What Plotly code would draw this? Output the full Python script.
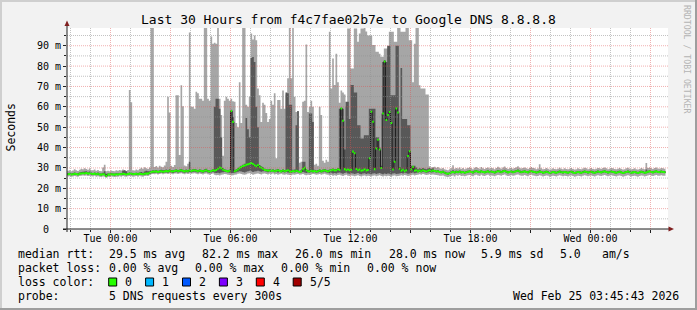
import pandas as pd
import plotly.graph_objects as go

# ---------------- data (ms), one value per 5-minute step from Mon 21:50 ----------------
MEDIAN = [
    26.9, 27.0, 26.8, 26.9, 27.1, 27.0, 26.8, 27.2, 27.3, 27.4,
    27.3, 27.5, 27.2, 27.4, 27.1, 27.0, 27.2, 26.9, 27.1, 26.8,
    26.7, 26.9, 26.8, 26.0, 26.8, 26.7, 26.9, 26.8, 26.7, 26.9,
    26.8, 27.0, 26.9, 27.1, 27.0, 26.8, 27.0, 27.2, 27.1, 26.9,
    27.0, 27.1, 26.9, 27.2, 27.0, 26.9, 27.1, 27.3, 27.2, 27.6,
    28.0, 28.2, 28.1, 28.3, 28.0, 28.2, 28.4, 28.1, 28.3, 28.5,
    28.3, 28.6, 28.4, 28.2, 28.5, 28.7, 28.4, 28.6, 28.9, 28.5,
    28.3, 28.6, 28.4, 28.8, 28.5, 28.7, 28.9, 28.6, 28.4, 28.7,
    28.5, 28.3, 28.6, 28.9, 28.4, 28.2, 28.5, 28.8, 28.6, 29.0,
    29.6, 30.2, 29.8, 29.1, 28.7, 28.5, 28.3, 28.6, 57.9, 52.6,
    28.4, 28.7, 29.2, 29.9, 30.4, 30.9, 31.2, 31.6, 31.8, 32.0,
    32.4, 31.9, 31.3, 30.8, 31.4, 30.6, 30.1, 29.6, 29.0, 28.8,
    28.6, 28.9, 28.5, 28.7, 28.4, 28.6, 28.9, 28.5, 28.3, 28.7,
    28.4, 28.6, 28.8, 28.3, 28.1, 28.5, 28.2, 28.6, 28.4, 28.0,
    28.3, 29.4, 30.1, 28.8, 28.4, 28.2, 28.6, 28.3, 28.5, 28.1,
    28.4, 28.7, 28.3, 28.6, 28.9, 28.5, 28.2, 28.6, 28.8, 29.1,
    28.7, 28.9, 29.3, 29.0, 59.2, 53.2, 29.4, 28.8, 29.2, 28.9,
    29.1, 38.0, 37.2, 29.5, 28.8, 29.2, 28.6, 28.9, 29.3, 28.7,
    29.0, 34.7, 57.6, 52.7, 29.4, 39.5, 43.8, 39.0, 30.0, 56.7,
    82.2, 53.5, 56.0, 57.5, 52.0, 29.2, 33.0, 59.2, 57.2, 29.6,
    28.6, 29.1, 28.4, 28.8, 35.8, 38.2, 29.3, 30.5, 28.6, 28.9,
    28.3, 28.7, 28.4, 28.9, 28.5, 28.2, 28.6, 28.8, 28.4, 28.7,
    28.5, 28.2, 28.4, 28.0, 27.8, 28.1, 27.6, 27.3, 27.1, 27.4,
    27.8, 28.0, 27.7, 28.1, 27.9, 28.2, 27.8, 28.0, 27.6, 27.9,
    28.1, 28.3, 28.0, 27.7, 28.2, 28.4, 28.1, 27.9, 28.3, 28.0,
    27.8, 28.1, 28.3, 27.9, 28.2, 28.0, 27.7, 28.1, 28.4, 28.2,
    27.9, 28.3, 28.5, 28.1, 27.8, 28.0, 28.2, 27.9, 28.1, 28.4,
    28.6, 28.2, 27.9, 28.1, 28.3, 28.0, 27.8, 28.2, 28.4, 28.1,
    28.0, 27.7, 27.9, 28.2, 28.0, 27.6, 27.8, 28.1, 27.9, 27.5,
    27.7, 28.0, 27.8, 27.6, 27.9, 28.2, 27.9, 27.7, 28.0, 27.8,
    27.6, 27.9, 28.1, 27.8, 27.5, 27.7, 28.0, 27.8, 27.6, 27.9,
    28.2, 28.0, 27.7, 27.9, 28.1, 27.8, 27.6, 27.9, 28.2, 28.0,
    27.8, 28.1, 28.3, 28.0, 27.7, 27.9, 28.2, 28.0, 27.8, 27.6,
    27.9, 28.1, 27.8, 27.5, 27.7, 28.0, 28.2, 27.9, 27.6, 27.8,
    28.0, 27.7, 27.5, 27.8, 28.1, 27.9, 27.6, 27.8, 28.1, 28.3,
    28.0, 27.8, 28.1, 28.3, 28.0, 27.9, 28.2, 28.0, 27.9,
]

PING_MAX = [
    28.6, 28.9, 28.4, 28.7, 29.3, 28.8, 28.5, 29.1, 29.6, 29.4,
    29.8, 29.5, 29.1, 29.7, 28.9, 28.8, 29.2, 28.6, 29.0, 28.5,
    28.4, 30.2, 31.6, 28.3, 28.6, 28.3, 28.7, 28.5, 28.4, 28.8,
    28.6, 29.0, 28.7, 29.2, 28.8, 28.5, 29.0, 68.2, 62.2, 28.9,
    28.7, 29.2, 28.8, 29.5, 30.1, 29.6, 30.3, 29.8, 29.5, 30.2,
    100, 100, 30.4, 30.9, 30.2, 31.0, 30.6, 30.3, 31.2, 33.0,
    64.9, 57.2, 31.0, 30.5, 31.4, 65.7, 65.7, 36.3, 70.6, 60.3,
    31.2, 30.8, 32.0, 96.5, 60.0, 60.0, 59.0, 67.4, 66.6, 64.0,
    64.0, 63.0, 100, 100, 64.0, 63.0, 94.5, 91.0, 91.5, 91.0,
    99.0, 64.0, 56.0, 36.0, 63.0, 65.0, 64.0, 63.0, 64.0, 62.7,
    62.5, 52.0, 50.0, 72.0, 52.0, 99.5, 100, 61.0, 60.0, 65.0,
    96.0, 93.0, 95.0, 92.7, 69.0, 65.7, 52.6, 62.0, 61.0, 57.0,
    52.6, 54.0, 63.0, 61.0, 66.6, 34.7, 63.3, 63.3, 59.0, 68.0,
    59.0, 66.0, 74.0, 99.5, 74.0, 100, 65.0, 57.5, 57.5, 32.5,
    33.0, 62.5, 63.0, 90.6, 57.5, 60.0, 63.0, 60.0, 31.5, 32.0,
    31.0, 60.0, 56.0, 33.5, 32.5, 34.0, 33.0, 96.8, 69.0, 83.7,
    70.7, 86.0, 72.0, 62.0, 68.0, 67.0, 66.0, 60.0, 98.5, 98.5,
    78.8, 78.8, 98.5, 98.5, 92.0, 96.0, 98.5, 98.5, 99.5, 97.0,
    95.0, 95.0, 95.0, 90.3, 90.3, 87.0, 87.0, 86.0, 84.6, 84.6,
    88.6, 88.6, 88.6, 96.8, 96.8, 96.8, 92.0, 92.0, 100, 100,
    96.8, 96.8, 96.8, 100, 100, 92.7, 92.7, 72.0, 91.0, 99.5,
    99.0, 70.6, 69.0, 69.0, 69.0, 66.0, 66.0, 30.8, 30.2, 30.5,
    30.6, 30.1, 30.4, 29.8, 29.6, 30.0, 29.4, 29.1, 28.9, 29.3,
    29.8, 31.3, 29.6, 30.0, 29.7, 30.2, 29.5, 29.9, 29.3, 29.7,
    30.0, 30.3, 29.8, 29.4, 30.1, 30.5, 29.9, 29.6, 30.4, 29.8,
    29.5, 29.9, 30.2, 29.7, 30.1, 29.8, 29.4, 29.9, 30.6, 30.1,
    29.6, 30.2, 30.7, 29.9, 29.5, 29.8, 30.1, 29.6, 29.9, 30.3,
    30.8, 30.1, 29.7, 29.9, 30.2, 29.8, 29.5, 30.0, 30.4, 29.9,
    29.8, 29.4, 29.7, 31.8, 29.8, 29.3, 29.5, 29.9, 29.6, 29.2,
    29.4, 29.8, 29.5, 29.3, 29.6, 30.1, 29.6, 29.4, 29.8, 29.5,
    29.3, 29.6, 29.9, 29.5, 29.2, 29.4, 29.8, 29.5, 29.3, 29.7,
    30.1, 29.8, 29.4, 29.6, 29.9, 29.5, 29.3, 29.6, 30.0, 29.8,
    29.5, 29.9, 30.2, 29.8, 29.4, 29.6, 30.0, 29.8, 29.5, 29.3,
    29.6, 29.9, 29.5, 29.2, 29.4, 29.8, 30.1, 29.6, 29.3, 29.5,
    29.8, 29.4, 29.2, 29.5, 29.9, 29.6, 29.3, 32.4, 29.9, 30.2,
    29.8, 29.5, 29.9, 30.2, 29.7, 29.6, 30.0, 29.8, 29.6,
]

PING_MIN = [
    25.8, 25.9, 25.6, 25.8, 26.0, 25.8, 25.7, 26.0, 26.1, 26.3,
    26.2, 26.3, 26.0, 26.2, 25.9, 25.8, 26.1, 25.7, 25.9, 25.6,
    25.5, 25.8, 25.6, 25.2, 25.7, 25.5, 25.8, 25.6, 25.5, 25.7,
    25.6, 25.9, 25.7, 26.0, 25.8, 25.6, 25.9, 26.0, 25.9, 25.7,
    25.8, 26.0, 25.7, 26.1, 25.8, 25.7, 26.0, 26.2, 26.0, 26.4,
    26.9, 27.0, 26.9, 27.1, 26.8, 27.0, 27.2, 26.9, 27.1, 27.2,
    27.0, 27.3, 27.1, 26.9, 27.2, 27.3, 27.0, 27.2, 27.4, 27.1,
    26.9, 27.2, 27.0, 27.3, 27.1, 27.2, 27.4, 27.1, 26.9, 27.2,
    27.0, 26.8, 27.1, 27.3, 26.9, 26.7, 27.0, 27.2, 26.6, 26.4,
    26.5, 26.3, 26.6, 26.8, 27.0, 26.9, 26.7, 26.5, 26.3, 26.4,
    26.6, 26.8, 27.1, 27.3, 27.0, 26.8, 26.6, 26.9, 27.2, 27.4,
    27.0, 26.7, 26.9, 27.1, 27.3, 27.0, 26.8, 27.1, 27.3, 27.0,
    26.8, 27.1, 26.9, 27.2, 26.8, 27.0, 26.6, 26.9, 27.1, 26.8,
    26.6, 26.9, 26.7, 26.5, 26.4, 26.8, 26.6, 26.9, 27.0, 26.7,
    26.8, 27.0, 26.6, 26.4, 26.7, 26.5, 26.8, 27.0, 26.9, 26.6,
    26.8, 27.0, 26.7, 26.9, 27.1, 26.8, 26.6, 26.3, 26.5, 26.2,
    26.4, 26.1, 26.5, 26.7, 26.3, 26.0, 26.4, 26.6, 26.2, 26.0,
    26.3, 26.1, 25.9, 26.2, 26.4, 26.0, 25.8, 26.1, 26.3, 25.9,
    26.2, 26.0, 25.8, 26.1, 26.3, 25.9, 26.1, 26.4, 26.0, 25.8,
    26.1, 25.9, 26.2, 26.0, 25.7, 26.1, 26.3, 25.9, 26.0, 26.2,
    26.4, 26.1, 26.5, 26.3, 26.0, 26.2, 26.4, 26.6, 26.3, 26.5,
    26.7, 26.9, 26.6, 27.0, 26.8, 26.5, 26.7, 26.9, 26.6, 26.8,
    26.6, 26.5, 26.4, 26.2, 26.1, 26.3, 25.9, 25.7, 25.5, 25.8,
    26.0, 26.3, 25.8, 26.4, 26.1, 26.5, 26.0, 26.2, 25.9, 26.1,
    26.4, 26.5, 26.1, 25.9, 26.4, 26.7, 26.3, 26.0, 26.6, 26.2,
    26.0, 26.4, 26.6, 26.1, 26.3, 26.2, 25.9, 26.3, 26.5, 26.4,
    26.1, 26.5, 26.8, 26.3, 26.0, 26.2, 26.4, 26.1, 26.3, 26.6,
    26.8, 26.4, 26.1, 26.2, 26.5, 26.2, 25.9, 26.4, 26.6, 26.3,
    26.2, 25.9, 26.0, 26.4, 26.2, 25.8, 26.0, 26.3, 26.1, 25.7,
    25.9, 26.2, 26.0, 25.8, 26.1, 26.4, 26.1, 25.9, 26.2, 26.0,
    25.8, 26.1, 26.3, 26.0, 25.7, 25.9, 26.2, 26.0, 25.8, 26.1,
    26.4, 26.2, 25.9, 26.1, 26.3, 26.0, 25.8, 26.1, 26.4, 26.2,
    26.0, 26.3, 26.5, 26.2, 25.9, 26.1, 26.4, 26.2, 26.0, 25.8,
    26.1, 26.3, 26.0, 25.7, 25.9, 26.2, 26.4, 26.1, 25.8, 26.0,
    26.2, 25.9, 25.7, 26.0, 26.3, 26.1, 25.8, 26.0, 26.3, 26.5,
    26.2, 26.0, 26.3, 26.5, 26.2, 26.1, 26.4, 26.2, 26.1,
]

PING_LOW = [
    26.5, 26.6, 26.4, 26.5, 26.7, 26.6, 26.4, 26.8, 26.9, 27.0,
    26.9, 27.1, 26.8, 27.0, 26.7, 26.6, 26.8, 26.5, 26.7, 26.4,
    26.3, 26.5, 26.4, 25.8, 26.4, 26.3, 26.5, 26.4, 26.3, 26.5,
    26.4, 26.6, 26.5, 26.7, 26.6, 26.4, 26.6, 26.8, 26.7, 26.5,
    26.6, 26.7, 26.5, 26.8, 26.6, 26.5, 26.7, 26.9, 26.8, 27.1,
    27.4, 27.6, 27.5, 27.7, 27.4, 27.6, 27.8, 27.5, 27.7, 27.8,
    27.6, 27.9, 27.7, 27.5, 27.8, 28.0, 27.7, 27.9, 28.1, 27.8,
    27.6, 27.9, 27.7, 28.0, 27.8, 28.0, 28.1, 27.9, 27.7, 28.0,
    27.8, 27.6, 27.9, 28.1, 27.7, 27.5, 27.8, 28.0, 27.6, 27.5,
    27.6, 27.4, 27.7, 27.9, 28.0, 27.9, 27.7, 27.6, 27.4, 27.5,
    27.6, 27.9, 28.1, 28.4, 28.2, 28.0, 27.8, 28.1, 28.4, 28.6,
    28.3, 28.0, 28.2, 28.4, 28.6, 28.3, 28.1, 28.3, 28.4, 28.1,
    27.9, 28.2, 28.0, 28.3, 27.9, 28.1, 27.8, 28.0, 27.7, 28.0,
    27.7, 28.0, 27.8, 27.6, 27.5, 27.9, 27.7, 28.0, 27.9, 27.6,
    27.8, 28.0, 27.7, 27.5, 27.8, 27.6, 27.9, 27.8, 27.9, 27.6,
    27.8, 28.0, 27.7, 27.9, 28.1, 27.8, 27.6, 27.4, 27.6, 27.3,
    27.5, 27.2, 27.6, 27.8, 27.4, 27.1, 27.5, 27.7, 27.3, 27.1,
    27.4, 27.2, 27.0, 27.3, 27.5, 27.1, 26.9, 27.2, 27.4, 27.0,
    27.3, 27.1, 26.9, 27.2, 27.4, 27.0, 27.2, 27.5, 27.1, 26.9,
    27.2, 27.0, 27.3, 27.1, 26.8, 27.2, 27.4, 27.0, 27.1, 27.3,
    27.5, 27.2, 27.6, 27.4, 27.1, 27.3, 27.5, 27.7, 27.4, 27.6,
    27.8, 28.0, 27.7, 28.1, 27.9, 27.6, 27.8, 28.0, 27.7, 27.9,
    28.0, 27.8, 27.9, 27.6, 27.4, 27.7, 27.2, 26.9, 26.7, 27.0,
    27.4, 27.6, 27.3, 27.7, 27.5, 27.8, 27.4, 27.6, 27.2, 27.5,
    27.7, 27.9, 27.6, 27.3, 27.8, 28.0, 27.7, 27.5, 27.9, 27.6,
    27.4, 27.7, 27.9, 27.5, 27.8, 27.6, 27.3, 27.7, 28.0, 27.8,
    27.5, 27.9, 28.1, 27.7, 27.4, 27.6, 27.8, 27.5, 27.7, 28.0,
    28.2, 27.8, 27.5, 27.7, 27.9, 27.6, 27.4, 27.8, 28.0, 27.7,
    27.6, 27.3, 27.5, 27.8, 27.6, 27.2, 27.4, 27.7, 27.5, 27.1,
    27.3, 27.6, 27.4, 27.2, 27.5, 27.8, 27.5, 27.3, 27.6, 27.4,
    27.2, 27.5, 27.7, 27.4, 27.1, 27.3, 27.6, 27.4, 27.2, 27.5,
    27.8, 27.6, 27.3, 27.5, 27.7, 27.4, 27.2, 27.5, 27.8, 27.6,
    27.4, 27.7, 27.9, 27.6, 27.3, 27.5, 27.8, 27.6, 27.4, 27.2,
    27.5, 27.7, 27.4, 27.1, 27.3, 27.6, 27.8, 27.5, 27.2, 27.4,
    27.6, 27.3, 27.1, 27.4, 27.7, 27.5, 27.2, 27.4, 27.7, 27.9,
    27.6, 27.4, 27.7, 27.9, 27.6, 27.5, 27.8, 27.6, 27.5,
]

PING_HIGH = [
    27.4, 27.6, 27.3, 27.5, 27.7, 27.5, 27.3, 27.8, 28.0, 28.1,
    28.2, 28.3, 27.9, 28.2, 27.8, 27.5, 27.8, 27.4, 27.7, 27.3,
    27.2, 27.6, 28.4, 27.1, 27.3, 27.2, 27.4, 27.3, 27.2, 27.4,
    27.3, 27.5, 27.4, 28.6, 28.8, 28.4, 27.5, 27.8, 27.6, 27.4,
    27.5, 27.6, 27.4, 27.8, 28.0, 27.6, 28.2, 28.6, 28.4, 28.3,
    28.6, 28.8, 28.7, 29.0, 28.6, 28.8, 29.1, 28.8, 29.0, 29.2,
    29.0, 29.3, 29.0, 28.8, 29.1, 29.4, 29.0, 29.2, 29.5, 29.1,
    28.9, 29.2, 29.0, 33.0, 29.1, 29.3, 29.5, 29.2, 29.0, 29.3,
    29.1, 28.9, 29.3, 29.6, 29.0, 28.8, 29.1, 29.4, 60.0, 64.0,
    64.0, 59.0, 45.0, 29.8, 29.3, 29.1, 28.9, 29.2, 58.5, 55.0,
    29.0, 29.3, 29.8, 30.6, 31.1, 31.6, 32.0, 54.5, 49.0, 45.0,
    84.0, 84.5, 82.0, 60.0, 50.0, 31.4, 30.8, 30.3, 29.6, 29.4,
    29.2, 29.5, 29.1, 29.3, 29.0, 29.2, 29.5, 29.1, 28.9, 29.3,
    29.0, 67.0, 66.6, 61.0, 61.0, 29.1, 29.2, 51.0, 58.0, 28.6,
    28.9, 33.0, 33.0, 29.4, 29.0, 56.7, 56.7, 52.5, 29.1, 28.7,
    29.0, 29.3, 28.9, 29.2, 29.5, 29.1, 28.8, 29.2, 29.4, 29.7,
    29.3, 29.5, 29.9, 59.0, 59.6, 59.0, 39.0, 62.5, 62.5, 54.0,
    70.7, 70.7, 67.0, 67.0, 51.0, 51.0, 44.5, 44.5, 46.0, 46.0,
    46.0, 59.0, 59.0, 59.0, 59.0, 45.0, 45.0, 40.0, 31.0, 82.0,
    83.0, 82.0, 90.0, 90.0, 65.7, 65.7, 65.7, 90.0, 90.0, 30.4,
    79.0, 54.0, 54.0, 54.0, 51.0, 51.0, 31.0, 31.0, 31.0, 30.2,
    29.4, 29.8, 29.5, 30.0, 29.6, 29.3, 29.7, 29.9, 29.5, 29.8,
    29.0, 28.7, 28.9, 28.5, 28.3, 28.6, 28.1, 27.8, 27.6, 27.9,
    28.3, 28.9, 28.2, 28.6, 28.4, 28.7, 28.3, 28.5, 28.1, 28.4,
    28.6, 28.8, 28.5, 28.2, 28.7, 28.9, 28.6, 28.4, 28.8, 28.5,
    28.3, 28.6, 28.8, 28.4, 28.7, 28.5, 28.2, 28.6, 29.0, 28.7,
    28.4, 28.8, 29.1, 28.6, 28.3, 28.5, 28.7, 28.4, 28.6, 28.9,
    29.2, 28.7, 28.4, 28.6, 28.8, 28.5, 28.3, 28.7, 28.9, 28.6,
    28.5, 28.2, 28.4, 29.0, 28.5, 28.1, 28.3, 28.6, 28.4, 28.0,
    28.2, 28.5, 28.3, 28.1, 28.4, 28.7, 28.4, 28.2, 28.5, 28.3,
    28.1, 28.4, 28.6, 28.3, 28.0, 28.2, 28.5, 28.3, 28.1, 28.4,
    28.7, 28.5, 28.2, 28.4, 28.6, 28.3, 28.1, 28.4, 28.7, 28.5,
    28.3, 28.6, 28.8, 28.5, 28.2, 28.4, 28.7, 28.5, 28.3, 28.1,
    28.4, 28.6, 28.3, 28.0, 28.2, 28.5, 28.7, 28.4, 28.1, 28.3,
    28.5, 28.2, 28.0, 28.3, 28.6, 28.4, 28.1, 29.2, 28.6, 28.8,
    28.5, 28.3, 28.6, 28.8, 28.5, 28.4, 28.7, 28.5, 28.4,
]

Y_TICKS = [0, 10, 20, 30, 40, 50, 60, 70, 80, 90]
Y_LABELS = ["0\u00a0\u00a0", "10 m", "20 m", "30 m", "40 m", "50 m", "60 m", "70 m", "80 m", "90 m"]
X_TICKS = ["2026-02-24 00:00", "2026-02-24 03:00", "2026-02-24 06:00", "2026-02-24 09:00",
           "2026-02-24 12:00", "2026-02-24 15:00", "2026-02-24 18:00", "2026-02-24 21:00",
           "2026-02-25 00:00", "2026-02-25 03:00"]
X_LABELS = ["Tue 00:00", "", "Tue 06:00", "", "Tue 12:00", "", "Tue 18:00", "", "Wed 00:00", ""]
LOSS_NAMES = ["0", "1", "2", "3", "4", "5/5"]
LOSS_COLORS = ["#26ff00", "#00b8ff", "#0059ff", "#7e00ff", "#ff0000", "#a10000"]

START = pd.Timestamp("2026-02-23 21:50")
X_RANGE = [pd.Timestamp("2026-02-23 21:49:30"), pd.Timestamp("2026-02-25 03:52:30")]
Y_MAX = 98.7

# ---------------- layout geometry (pixels) ----------------
W, H = 697, 310
PL, PR, PT, PB = 67, 668, 28, 229
FONT = "DejaVu Sans Mono"
BAND = 0.5  # half thickness of the median band (ms)


def px(x):
    return (x - PL) / (PR - PL)


def py(y):
    return (PB - y) / (PB - PT)


n = len(MEDIAN)
times = pd.date_range(START, periods=n + 1, freq="5min")


def step(vals):
    return list(vals) + [vals[-1]]


fig = go.Figure()


def add_band(lo, hi, color):
    fig.add_trace(go.Scatter(x=times, y=step(lo), mode="lines", line=dict(width=0, shape="hv"),
                             hoverinfo="skip", showlegend=False))
    fig.add_trace(go.Scatter(x=times, y=step(hi), mode="lines", line=dict(width=0, shape="hv"),
                             fill="tonexty", fillcolor=color, hoverinfo="skip", showlegend=False))


add_band(PING_MIN, PING_MAX, "#a6a6a6")
add_band(PING_LOW, PING_HIGH, "#585858")
fig.add_trace(go.Scatter(x=times, y=step(MEDIAN), mode="lines",
                         line=dict(width=1, shape="hv", color="#202020"),
                         hoverinfo="skip", showlegend=False))
add_band([m - BAND for m in MEDIAN], [m + BAND for m in MEDIAN], LOSS_COLORS[0])

shapes = []
# grid (drawn above the smoke, like rrdtool)
grid_col = "rgba(143,143,143,0.55)"
mgrid_col = "rgba(222,79,79,0.45)"
for t in pd.date_range("2026-02-23 22:00", "2026-02-25 03:00", freq="1h"):
    col = mgrid_col if t.hour % 3 == 0 else grid_col
    shapes.append(dict(type="line", xref="x", yref="paper", x0=t, x1=t, y0=0, y1=1, layer="above",
                       line=dict(color=col, width=1, dash="1px,1px")))
for v in range(5, 100, 5):
    col = mgrid_col if v % 10 == 0 else grid_col
    shapes.append(dict(type="line", xref="paper", yref="y", x0=0, x1=1, y0=v, y1=v, layer="above",
                       line=dict(color=col, width=1, dash="1px,1px")))
# axes + arrows
axis_col = "#1f1f1f"
arrow_col = "#7f1f1f"
shapes.append(dict(type="line", xref="paper", yref="paper", x0=px(63), x1=px(669), y0=py(229), y1=py(229),
                   layer="above", line=dict(color=axis_col, width=1)))
shapes.append(dict(type="line", xref="paper", yref="paper", x0=px(67), x1=px(67), y0=py(232), y1=py(25),
                   layer="above", line=dict(color=axis_col, width=1)))
shapes.append(dict(type="path", xref="paper", yref="paper", layer="above", fillcolor=arrow_col,
                   line=dict(width=0),
                   path=f"M {px(67)} {py(20.5)} L {px(64.5)} {py(26)} L {px(69.5)} {py(26)} Z"))
shapes.append(dict(type="path", xref="paper", yref="paper", layer="above", fillcolor=arrow_col,
                   line=dict(width=0),
                   path=f"M {px(674)} {py(229)} L {px(668.5)} {py(226.5)} L {px(668.5)} {py(231.5)} Z"))
# 3D frame of the image
shapes.append(dict(type="rect", xref="paper", yref="paper", x0=px(0), x1=px(W), y0=py(0), y1=py(2),
                   line=dict(width=0), fillcolor="#cfcfcf", layer="above"))
shapes.append(dict(type="rect", xref="paper", yref="paper", x0=px(0), x1=px(2), y0=py(0), y1=py(H),
                   line=dict(width=0), fillcolor="#cfcfcf", layer="above"))
shapes.append(dict(type="rect", xref="paper", yref="paper", x0=px(0), x1=px(W), y0=py(H - 2), y1=py(H),
                   line=dict(width=0), fillcolor="#9e9e9e", layer="above"))
shapes.append(dict(type="rect", xref="paper", yref="paper", x0=px(W - 2), x1=px(W), y0=py(0), y1=py(H),
                   line=dict(width=0), fillcolor="#9e9e9e", layer="above"))

annotations = []


def text(x, y, s, size=11.5, anchor="left", color="#000000", angle=0):
    annotations.append(dict(x=px(x), y=py(y), xref="paper", yref="paper", text=s, showarrow=False,
                            xanchor=anchor, yanchor="middle", textangle=angle,
                            font=dict(family=FONT, size=size, color=color)))


text(348, 19, "Last 30 Hours from f4c7fae02b7e to Google DNS 8.8.8.8", size=13, anchor="center")
text(10, 127.5, "Seconds", anchor="center", angle=-90)
text(687, 59, "RRDTOOL / TOBI OETIKER", size=8.2, anchor="center", color="#b4b4b4", angle=90)

row1 = [(16, "median rtt:"), (107, "29.5 ms avg"), (200, "82.2 ms max"), (293, "26.0 ms min"),
        (386.7, "28.0 ms now"), (479, "5.9 ms sd"), (558, "5.0"), (600, "am/s")]
row2 = [(16, "packet loss:"), (107.3, "0.00 % avg"), (193.3, "0.00 % max"), (279.3, "0.00 % min"),
        (365.3, "0.00 % now")]
for x, s in row1:
    text(x, 254, s)
for x, s in row2:
    text(x, 268, s)
text(16, 282, "loss color:")
for k, (name, col) in enumerate(zip(LOSS_NAMES, LOSS_COLORS)):
    bx = 108.7 + k * 36.9
    shapes.append(dict(type="rect", xref="paper", yref="paper", x0=px(bx), x1=px(bx + 8),
                       y0=py(286), y1=py(278), fillcolor=col, line=dict(color="#000000", width=1),
                       layer="above"))
    text(bx + 14.6, 282, name)
text(16, 296, "probe:")
text(107.3, 296, "5 DNS requests every 300s")
text(680.5, 296, "Wed Feb 25 03:45:43 2026", anchor="right")

fig.update_layout(
    width=W, height=H,
    margin=dict(l=PL, r=W - PR, t=PT, b=H - PB, pad=0),
    paper_bgcolor="#f2f2f2", plot_bgcolor="#ffffff",
    showlegend=False,
    shapes=shapes, annotations=annotations,
    font=dict(family=FONT, size=10, color="#000000"),
)
fig.update_xaxes(
    range=X_RANGE, type="date", showgrid=False, zeroline=False, showline=False,
    tickmode="array", tickvals=X_TICKS, ticktext=X_LABELS,
    ticks="outside", ticklen=3, tickwidth=1, tickcolor="#1f1f1f", ticklabelstandoff=-3,
    tickfont=dict(family=FONT, size=10, color="#000000"),
    minor=dict(ticks="outside", ticklen=2, tickcolor="#1f1f1f", tickmode="linear",
               tick0="2026-02-24 00:00", dtick=3600000, showgrid=False),
    fixedrange=True,
)
fig.update_yaxes(
    range=[0, Y_MAX], showgrid=False, zeroline=False, showline=False,
    tickmode="array", tickvals=Y_TICKS, ticktext=Y_LABELS,
    ticks="outside", ticklen=3, tickwidth=1, tickcolor="#1f1f1f",
    tickfont=dict(family=FONT, size=10, color="#000000"),
    minor=dict(ticks="outside", ticklen=2, tickcolor="#1f1f1f", tickmode="linear",
               tick0=0, dtick=5, showgrid=False),
    fixedrange=True,
)

fig.write_html("out.html")
